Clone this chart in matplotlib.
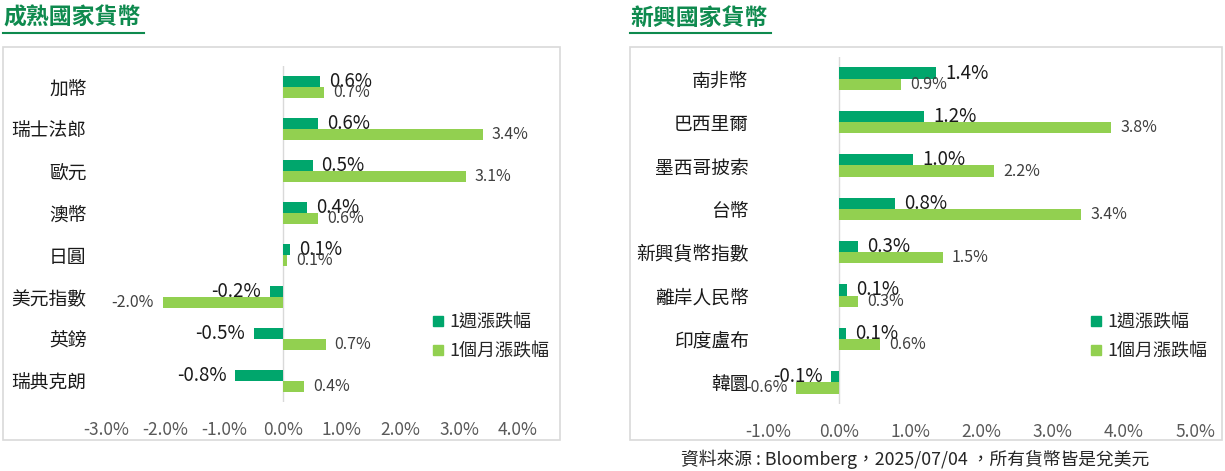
import matplotlib
matplotlib.use("Agg")
import matplotlib.pyplot as plt
from matplotlib.lines import Line2D
from matplotlib.patches import Rectangle
from matplotlib.ticker import MultipleLocator, FuncFormatter
import numpy as np

plt.rcParams['font.family'] = ['Noto Sans CJK TC', 'DejaVu Sans']

### data
dev_names = ["加幣", "瑞士法郎", "歐元", "澳幣", "日圓", "美元指數", "英鎊", "瑞典克朗"]
dev_week = [0.63, 0.61, 0.51, 0.41, 0.12, -0.22, -0.49, -0.80]
dev_month = [0.71, 3.40, 3.11, 0.60, 0.08, -2.04, 0.73, 0.37]

em_names = ["南非幣", "巴西里爾", "墨西哥披索", "台幣", "新興貨幣指數", "離岸人民幣", "印度盧布", "韓圜"]
em_week = [1.36, 1.19, 1.04, 0.79, 0.27, 0.11, 0.10, -0.11]
em_month = [0.87, 3.82, 2.18, 3.40, 1.46, 0.27, 0.58, -0.60]

series_labels = ["1週漲跌幅", "1個月漲跌幅"]
titles = ["成熟國家貨幣", "新興國家貨幣"]
source = "資料來源 : Bloomberg，2025/07/04 ，所有貨幣皆是兌美元"

C_WEEK = "#00A66C"
C_MONTH = "#92D050"
C_TITLE = "#0E8A4E"
C_TEXT = "#262626"

W, H = 1225, 471
fig = plt.figure(figsize=(W / 100, H / 100), dpi=100)


def px(x0, y0, x1, y1):
    # pixel box (top-left origin) -> figure fraction rect
    return [x0 / W, 1 - y1 / H, (x1 - x0) / W, (y1 - y0) / H]


def panel(rect, names, week, month, xlim, leg_xy):
    ax = fig.add_axes(rect)
    y = np.arange(len(names))
    bh = 0.26
    b1 = ax.barh(y - bh / 2, week, height=bh, color=C_WEEK)
    b2 = ax.barh(y + bh / 2, month, height=bh, color=C_MONTH)
    ax.set_ylim(len(names) - 0.5, -0.5)
    ax.set_xlim(*xlim)
    ax.axvline(0, color="#d9d9d9", lw=1, zorder=0)
    for s in ax.spines.values():
        s.set_visible(False)
    ax.set_yticks(y)
    ax.set_yticklabels(names, fontsize=13.5, color="#1a1a1a", fontweight="medium")
    ax.xaxis.set_major_locator(MultipleLocator(1))
    ax.xaxis.set_major_formatter(FuncFormatter(lambda v, p: f"{v + 0.0:.1f}%"))
    ax.tick_params(axis="x", length=0, labelsize=12.5, labelcolor="#595959", pad=14)
    ax.tick_params(axis="y", length=0, pad=14)

    for bars, vals, fs, fw, col in ((b1, week, 13.5, "medium", "#1a1a1a"),
                                     (b2, month, 11.5, "normal", "#404040")):
        for b, v in zip(bars, vals):
            yc = b.get_y() + b.get_height() / 2
            off = 6.5 if v >= 0 else -6.5
            ax.annotate(f"{v:.1f}%", (v, yc), xytext=(off, 0), textcoords="offset points",
                        ha="left" if v >= 0 else "right", va="center",
                        fontsize=fs, fontweight=fw, color=col)

    handles = [Line2D([], [], marker="s", ls="", color=C_WEEK, markersize=7.5),
               Line2D([], [], marker="s", ls="", color=C_MONTH, markersize=7.5)]
    ax.legend(handles, series_labels, loc="center left",
              bbox_to_anchor=(leg_xy[0] / W, 1 - leg_xy[1] / H),
              bbox_transform=fig.transFigure, frameon=False, fontsize=13,
              handlelength=0.6, handletextpad=0.3, labelspacing=0.6,
              borderpad=0, labelcolor=C_TEXT)
    return ax


panel(px(106, 66, 518, 402), dev_names, dev_week, dev_month, (-3, 4), (424, 337))
panel(px(768, 57, 1195, 404), em_names, em_week, em_month, (-1, 5), (1082, 337))

# outer boxes, titles and underline
for (x0, x1), t in zip(((3, 560), (630, 1222)), titles):
    fig.patches.append(Rectangle((x0 / W, 1 - 440 / H), (x1 - x0) / W, 393 / H,
                                 transform=fig.transFigure, fill=False,
                                 ec="#d9d9d9", lw=1.2))
    fig.text(x0 / W, 1 - 18 / H, t, fontsize=16.5, fontweight="bold",
             color=C_TITLE, va="center", ha="left")
    fig.add_artist(Line2D([x0 / W, (x0 + 141) / W], [1 - 33 / H, 1 - 33 / H],
                          transform=fig.transFigure, color=C_TITLE, lw=1.5))

fig.text(915 / W, 1 - 459 / H, source, fontsize=12.8, color=C_TEXT, ha="center", va="center")

fig.savefig("out.png", dpi=100)
